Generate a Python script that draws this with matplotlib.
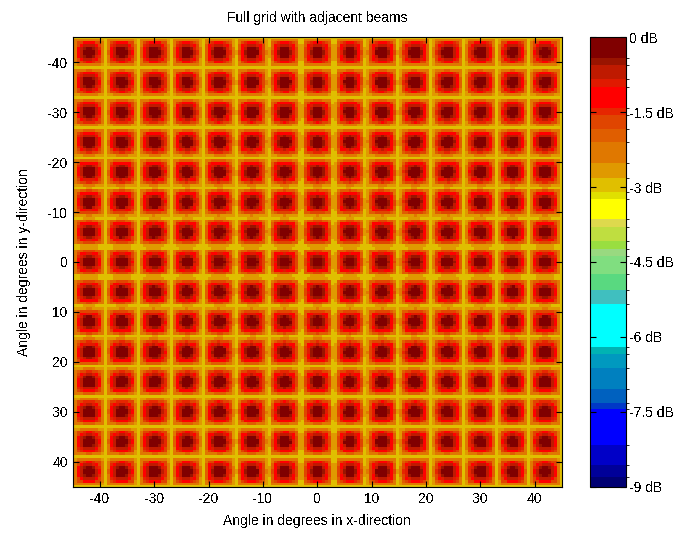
import numpy as np
import matplotlib
matplotlib.use("Agg")
import matplotlib.pyplot as plt
from matplotlib.colors import ListedColormap, BoundaryNorm

plt.rcParams['font.family'] = ['Liberation Sans', 'DejaVu Sans']
plt.rcParams['font.size'] = 10
plt.rcParams['text.antialiased'] = False
plt.rcParams['axes.unicode_minus'] = False

# beam pointing directions (deg)
beam_x = [-42, -36, -30, -24, -18, -12, -6, 0, 6, 12, 18, 24, 30, 36, 42]
beam_y = [-42, -36, -30, -24, -18, -12, -6, 0, 6, 12, 18, 24, 30, 36, 42]
roll_off = 0.35      # dB per deg^2 near beam centre
floor_db = -2.95     # level where neighbouring beams take over
round_core = 2.6     # deg, footprint is round inside, square outside
n_samples = 165      # angular samples per axis

# colour scale (dB), banded as in the saved colormap
levels = [-9, -8.81, -8.57, -8.17, -7.45, -7.32, -7.04, -6.62, -6.34, -6.2,
          -5.35, -5.07, -4.75, -4.37, -4.23, -4.07, -3.8, -3.64, -3.23, -3.1,
          -2.81, -2.51, -2.1, -1.84, -1.55, -1.42, -1.0, -0.84, -0.55, -0.41, 0]
band_colors = [
    (0, 0, 0.45), (0, 0, 0.6), (0, 0, 0.78), (0, 0, 1), (0, 0.22, 0.78),
    (0, 0.38, 0.75), (0, 0.5, 0.75), (0, 0.6, 0.75), (0, 0.7, 0.7), (0, 1, 1),
    (0.25, 0.75, 0.75), (0.35, 0.85, 0.5), (0.5, 0.87, 0.5), (0.6, 0.85, 0.5),
    (0.6, 0.87, 0.25), (0.75, 0.87, 0.25), (0.87, 0.85, 0.3), (1, 1, 0),
    (0.88, 0.88, 0), (0.88, 0.75, 0), (0.88, 0.6, 0), (0.88, 0.47, 0),
    (0.88, 0.37, 0), (0.88, 0.27, 0), (0.9, 0.15, 0), (1, 0, 0),
    (0.88, 0.1, 0), (0.75, 0.1, 0), (0.6, 0.08, 0), (0.5, 0, 0)]
cbar_ticks = [-9, -7.5, -6, -4.5, -3, -1.5, 0]
cbar_labels = ['-9 dB', '-7.5 dB', '-6 dB', '-4.5 dB', '-3 dB', '-1.5 dB', '0 dB']

# angle grid
ax_ang = np.linspace(-45, 45, n_samples)
X, Y = np.meshgrid(ax_ang, ax_ang)

# best beam gain at each direction
gain = np.full(X.shape, -np.inf)
for bx in beam_x:
    for by in beam_y:
        dx = np.abs(X - bx)
        dy = np.abs(Y - by)
        w = np.exp(-(dx ** 2 + dy ** 2) / round_core ** 2)
        rho2 = np.maximum(dx, dy) ** 2 + w * np.minimum(dx, dy) ** 2
        gain = np.maximum(gain, -roll_off * rho2)
gain = np.clip(gain, floor_db, 0)

cmap = ListedColormap(band_colors)
norm = BoundaryNorm(levels, cmap.N)

fig = plt.figure(figsize=(6.88, 5.36), dpi=100)
ax = fig.add_axes([0.1057, 0.092, 0.7107, 0.8384])
im = ax.pcolormesh(ax_ang, ax_ang, gain, cmap=cmap, norm=norm, shading='nearest')
ax.set_xlim(-45, 45)
ax.set_ylim(45, -45)
ax.set_xticks(np.arange(-40, 41, 10))
ax.set_yticks(np.arange(-40, 41, 10))
ax.tick_params(direction='in', top=True, right=True, length=4, width=0.8)
ax.set_title('Full grid with adjacent beams', fontsize=10, pad=11)
ax.set_xlabel('Angle in degrees in x-direction', labelpad=6)
ax.set_ylabel('Angle in degrees in y-direction', labelpad=12)

cax = fig.add_axes([0.8576, 0.092, 0.0519, 0.8384])
cb = fig.colorbar(im, cax=cax, spacing='proportional', ticks=cbar_ticks)
cb.ax.set_yticklabels(cbar_labels)
cb.ax.tick_params(direction='in', left=True, right=True, length=4, width=0.8, pad=2)
cb.outline.set_linewidth(0.8)

fig.savefig('out.png', dpi=100)
